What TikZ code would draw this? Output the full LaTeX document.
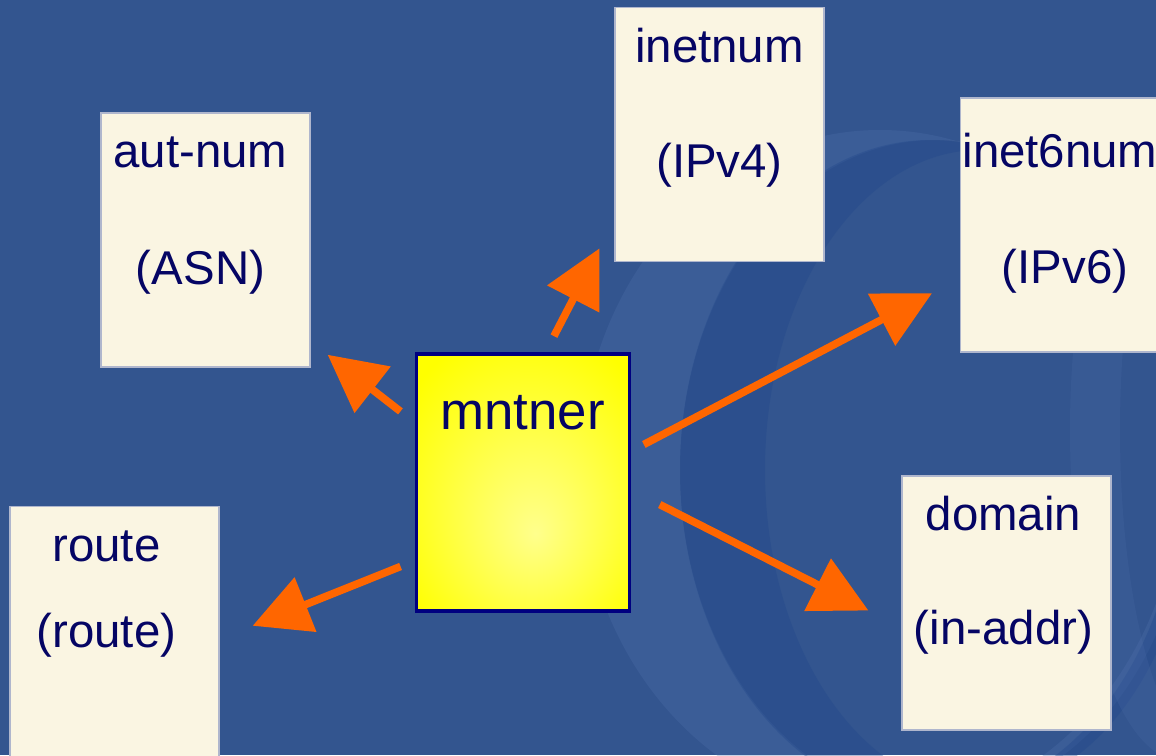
\documentclass[tikz,border=0pt]{standalone}
\usepackage{fontspec}
\setmainfont{Liberation Sans}
\usetikzlibrary{arrows.meta}
\definecolor{bgblue}{RGB}{51,85,143}
\definecolor{swirlhi}{RGB}{80,112,172}
\definecolor{swirllo}{RGB}{32,70,138}
\definecolor{cream}{RGB}{250,245,226}
\definecolor{creamedge}{RGB}{175,182,205}
\definecolor{navy}{RGB}{5,5,100}
\definecolor{mntedge}{RGB}{0,0,128}
\definecolor{arrorange}{RGB}{255,102,0}
\pgfdeclareradialshading{mntglow}{\pgfpoint{3bp}{-10bp}}{color(0bp)=(yellow!45!white); color(34bp)=(yellow); color(50bp)=(yellow)}
\begin{document}
\begin{tikzpicture}[
		x=0.5pt, y=-0.5pt,
		objbox/.style={draw=creamedge, line width=0.6pt, fill=cream, minimum width=104.5pt, minimum height=127pt, inner sep=0pt},
		objtext/.style={text=navy, font=\fontsize{23.7pt}{28pt}\selectfont, anchor=base, inner sep=0pt},
		link/.style={draw=arrorange, line width=3.8pt, -{Triangle[length=28.5pt, width=28.5pt]}}
	]
	\useasboundingbox (0,0) rectangle (1156,755);
	\clip (0,0) rectangle (1156,755);
	% background
	\fill[bgblue] (0,0) rectangle (1156,755);
	\fill[swirlhi, opacity=.3, even odd rule] (880,470) ellipse [x radius=300, y radius=340] (935,470) ellipse [x radius=255, y radius=330];
	\fill[swirllo, opacity=.35, even odd rule] (930,470) ellipse [x radius=250, y radius=330] (980,470) ellipse [x radius=215, y radius=320];
	\fill[swirlhi, opacity=.2, even odd rule] (1180,430) ellipse [x radius=110, y radius=330] (1210,430) ellipse [x radius=90, y radius=320];

	% the objects
	\node[objbox, label={[objtext, xshift=-2.5pt, yshift=-27.5pt]north:aut-num}, label={[objtext, xshift=-2.5pt, yshift=-86pt]north:{(ASN)}}] (autnum) at (205.5,240) {};
	\node[objbox, label={[objtext, yshift=-28pt]north:inetnum}, label={[objtext, yshift=-85.5pt]north:{(IPv4)}}] (inetnum) at (719.5,134.5) {};
	\node[objbox, label={[objtext, xshift=-2.5pt, yshift=-35pt]north:inet6num}, label={[objtext, yshift=-93pt]north:{(IPv6)}}] (inet6num) at (1065,225) {};
	\node[objbox, label={[objtext, xshift=-1.5pt, yshift=-27.5pt]north:domain}, label={[objtext, xshift=-1.5pt, yshift=-84.5pt]north:{(in-addr)}}] (domain) at (1006.5,603) {};
	\node[objbox, label={[objtext, xshift=-4pt, yshift=-28pt]north:route}, label={[objtext, xshift=-4pt, yshift=-71pt]north:{(route)}}] (route) at (114.5,633.5) {};

	\node[draw=mntedge, line width=1.7pt, shading=mntglow, minimum width=106.5pt, minimum height=128.5pt, inner sep=0pt,
		label={[objtext, font=\fontsize{26.4pt}{30pt}\selectfont, yshift=-38.5pt]north:mntner}] (mntner) at (522.7,482.3) {};

	% arrows
	\draw[link, shorten <=8.9pt, shorten >=10.8pt] (mntner.151.5) -- (autnum.-44);
	\draw[link, shorten <=9pt, shorten >=16.2pt] (mntner.80.5) -- (inetnum.219);
	\draw[link, shorten <=7.3pt, shorten >=15.75pt] (mntner.16.8) -- (inet6num.207);
	\draw[link, shorten <=16.2pt, shorten >=18.5pt] (mntner.-4.5) -- (domain.193);
	\draw[link, shorten <=7.5pt, shorten >=17.8pt] (mntner.216.2) -- (route.-3.1);
\end{tikzpicture}
\end{document}
